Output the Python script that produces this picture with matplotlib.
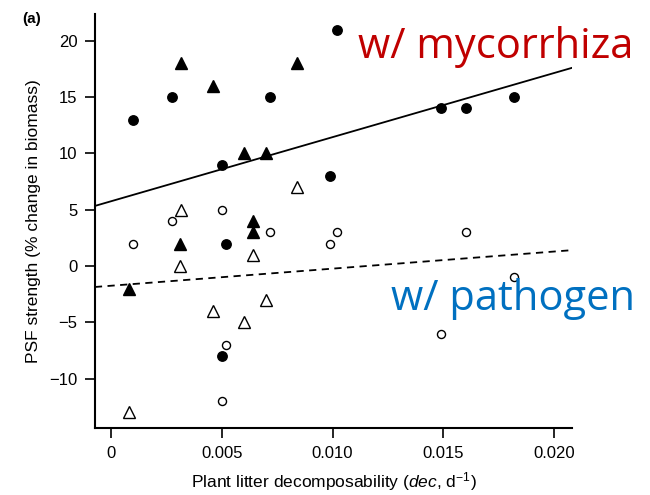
import numpy as np
import matplotlib
matplotlib.use("Agg")
import matplotlib.pyplot as plt

plt.rcParams['font.family'] = ['Liberation Sans', 'DejaVu Sans']
plt.rcParams['mathtext.fontset'] = 'custom'
plt.rcParams['mathtext.rm'] = 'Liberation Sans'
plt.rcParams['mathtext.it'] = 'Liberation Sans:italic'

# mycorrhiza (filled) and pathogen (open); circles and triangles
myc_circ_x = [0.0010, 0.00275, 0.0050, 0.0072, 0.0102, 0.0099, 0.0149, 0.0160, 0.0182, 0.0052, 0.0050]
myc_circ_y = [13, 15, 9, 15, 21, 8, 14, 14, 15, 2, -8]
myc_tri_x = [0.00315, 0.0046, 0.0060, 0.0070, 0.0084, 0.0031, 0.0064, 0.0064, 0.0008]
myc_tri_y = [18, 16, 10, 10, 18, 2, 4, 3, -2]
pat_circ_x = [0.0010, 0.00275, 0.0050, 0.0072, 0.0099, 0.0102, 0.0160, 0.0182, 0.0149, 0.0052, 0.0050]
pat_circ_y = [2, 4, 5, 3, 2, 3, 3, -1, -6, -7, -12]
pat_tri_x = [0.00315, 0.0031, 0.0084, 0.0064, 0.0046, 0.0060, 0.0070, 0.0008]
pat_tri_y = [5, 0, 7, 1, -4, -5, -3, -13]

# regression lines: intercept, slope
myc_fit = (5.75, 570.0)
pat_fit = (-1.75, 152.0)

fig = plt.figure(figsize=(6.5, 4.95), dpi=100)
ax = fig.add_axes([0.146, 0.135, 0.734, 0.837])

xlim = (-0.00072, 0.0208)
ax.set_xlim(*xlim)
ax.set_ylim(-14.4, 22.4)

xs = np.array(xlim)
ax.plot(xs, myc_fit[0] + myc_fit[1] * xs, color='black', lw=1.3)
ax.plot(xs, pat_fit[0] + pat_fit[1] * xs, color='black', lw=1.3, ls=(0, (4, 3)))

ax.plot(myc_circ_x, myc_circ_y, 'o', color='black', ms=6.8)
ax.plot(myc_tri_x, myc_tri_y, '^', color='black', ms=8.5)
ax.plot(pat_circ_x, pat_circ_y, 'o', mfc='white', mec='black', mew=1.0, ms=5.8)
ax.plot(pat_tri_x, pat_tri_y, '^', mfc='white', mec='black', mew=1.0, ms=8)

for s in ['top', 'right']:
    ax.spines[s].set_visible(False)
for s in ['left', 'bottom']:
    ax.spines[s].set_linewidth(1.5)

ax.set_xticks([0, 0.005, 0.010, 0.015, 0.020])
ax.set_xticklabels(['0', '0.005', '0.010', '0.015', '0.020'])
ax.set_yticks([-10, -5, 0, 5, 10, 15, 20])
ax.tick_params(axis='both', labelsize=12, length=7.5, width=1.2, pad=5)

ax.set_xlabel(r'Plant litter decomposability ($\it{dec}$, d$^{-1}$)', fontsize=12.5, labelpad=7)
ax.set_ylabel('PSF strength (% change in biomass)', fontsize=12.5, labelpad=6)

fig.text(0.034, 0.975, '(a)', fontsize=11, fontweight='bold', va='top')
fig.text(0.974, 0.905, 'w/ mycorrhiza', color='#C00000', fontsize=30,
         family=['Open Sans', 'DejaVu Sans'], ha='right', va='center')
fig.text(0.977, 0.395, 'w/ pathogen', color='#0070C0', fontsize=30,
         family=['Open Sans', 'DejaVu Sans'], ha='right', va='center')

fig.savefig('out.png', dpi=100)
